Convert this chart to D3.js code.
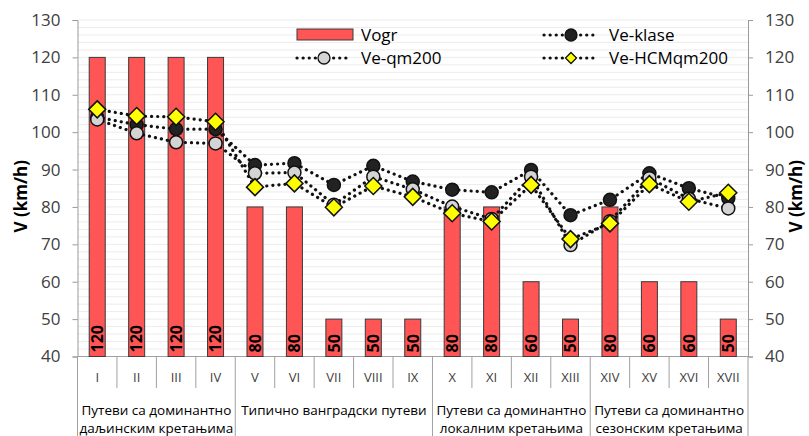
<!DOCTYPE html>
<html>
<head>
<meta charset="utf-8">
<script src="https://cdn.jsdelivr.net/npm/d3@7"></script>
<style>
  html, body { margin: 0; padding: 0; background: #fff; }
  svg { display: block; font-family: "Open Sans", "Noto Sans", sans-serif; }
</style>
</head>
<body>
<svg id="chart" width="809" height="436"></svg>
<script>
// Road classes (Roman numerals) and their groups
const categories = ["I","II","III","IV","V","VI","VII","VIII","IX","X","XI","XII","XIII","XIV","XV","XVI","XVII"];
const groups = [
  { from: 0, to: 3, lines: ["Путеви са доминантно", "даљинским кретањима"] },
  { from: 4, to: 8, lines: ["Типично ванградски путеви"] },
  { from: 9, to: 12, lines: ["Путеви са доминантно", "локалним кретањима"] },
  { from: 13, to: 16, lines: ["Путеви са доминантно", "сезонским кретањима"] }
];

// Speed limit (bars) and estimated speeds (lines), km/h
const vogr        = [120,120,120,120,80,80,50,50,50,80,80,60,50,80,60,60,50];
const veKlase     = [104,102,100.8,100.8,91.2,91.7,85.9,91,86.8,84.6,83.9,89.9,77.8,81.9,89,85,82.3];
const veQm200     = [103.4,99.7,97.3,97,89,89.2,80.6,88.1,84.7,80.1,76.8,88.1,69.8,76.2,87.7,82.2,79.6];
const veHcmQm200  = [106.1,104.3,104.1,102.8,85.3,86.3,79.9,85.6,82.7,78.3,76.1,85.9,71.4,75.6,86.1,81.4,83.8];

const yTicks = [40,50,60,70,80,90,100,110,120,130];

const svg = d3.select("#chart");
const plot = { left: 77.5, right: 748, top: 20, bottom: 356.5 };

const x = d3.scaleBand().domain(categories).range([plot.left, plot.right]).padding(0);
const y = d3.scaleLinear().domain([40, 130]).range([plot.bottom, plot.top]);
const cx = c => x(c) + x.bandwidth() / 2;

// light horizontal gridlines every 2 km/h
const gridVals = d3.range(42, 131, 2);
svg.append("g").selectAll("line").data(gridVals).join("line")
  .attr("x1", plot.left).attr("x2", plot.right)
  .attr("y1", d => y(d)).attr("y2", d => y(d))
  .attr("stroke", "#ececec").attr("stroke-width", 1);

// left axis
const axisColor = "#9a9a9a";
const leftAxis = d3.axisLeft(y).tickValues(yTicks).tickSize(5).tickPadding(12).tickFormat(d3.format("d"));
const gl = svg.append("g").attr("transform", `translate(${plot.left},0)`).call(leftAxis);
gl.select(".domain").attr("stroke", axisColor);
gl.selectAll(".tick line").attr("stroke", axisColor);
gl.selectAll(".tick text").attr("fill", "#404040").style("font-size", "17px").style("font-family", "Open Sans, sans-serif");

// right axis
const rightAxis = d3.axisRight(y).tickValues(yTicks).tickSize(5).tickPadding(12).tickFormat(d3.format("d"));
const gr = svg.append("g").attr("transform", `translate(${plot.right},0)`).call(rightAxis);
gr.select(".domain").attr("stroke", axisColor);
gr.selectAll(".tick line").attr("stroke", axisColor);
gr.selectAll(".tick text").attr("fill", "#404040").style("font-size", "17px").style("font-family", "Open Sans, sans-serif");

// axis titles
svg.append("text").attr("transform", `translate(27,${(plot.top + plot.bottom) / 2 + 8}) rotate(-90)`)
  .attr("text-anchor", "middle").attr("font-weight", "bold").attr("font-size", 17).attr("fill", "#000")
  .text("V (km/h)");
svg.append("text").attr("transform", `translate(802,${(plot.top + plot.bottom) / 2 + 8}) rotate(-90)`)
  .attr("text-anchor", "middle").attr("font-weight", "bold").attr("font-size", 17).attr("fill", "#000")
  .text("V (km/h)");

// bottom axis line and category separators
const sepColor = "#a0a0a0";
svg.append("line").attr("x1", plot.left).attr("x2", plot.right)
  .attr("y1", plot.bottom).attr("y2", plot.bottom).attr("stroke", sepColor);
const groupEdges = new Set([0, 4, 9, 13, 17]);
svg.append("g").selectAll("line").data(d3.range(0, 18)).join("line")
  .attr("x1", i => plot.left + i * x.bandwidth()).attr("x2", i => plot.left + i * x.bandwidth())
  .attr("y1", plot.bottom)
  .attr("y2", i => groupEdges.has(i) ? 436 : 388)
  .attr("stroke", sepColor);

// category labels
svg.append("g").selectAll("text").data(categories).join("text")
  .attr("x", d => cx(d)).attr("y", 382)
  .attr("text-anchor", "middle").attr("font-size", 13).attr("fill", "#404040")
  .text(d => d);

// group labels
groups.forEach(g => {
  const gx = (x(categories[g.from]) + x(categories[g.to]) + x.bandwidth()) / 2;
  g.lines.forEach((t, i) => {
    svg.append("text").attr("x", gx).attr("y", 415 + i * 18)
      .attr("text-anchor", "middle").attr("font-size", 13.5).attr("fill", "#000")
      .text(t);
  });
});

// bars for the speed limit
const barW = 16;
svg.append("g").selectAll("rect").data(vogr).join("rect")
  .attr("x", (d, i) => cx(categories[i]) - barW / 2)
  .attr("y", d => y(d))
  .attr("width", barW)
  .attr("height", d => y(40) - y(d))
  .attr("fill", "#ff5555").attr("stroke", "#3a3a3a").attr("stroke-width", 1);

// value labels inside bars
svg.append("g").selectAll("text").data(vogr).join("text")
  .attr("transform", (d, i) => `translate(${cx(categories[i])},${plot.bottom - 4}) rotate(-90)`)
  .attr("dy", "0.36em").attr("text-anchor", "start")
  .attr("font-weight", "bold").attr("font-size", 16).attr("fill", "#000")
  .text(d => d);

// dotted lines with markers
const line = d3.line().x((d, i) => cx(categories[i])).y(d => y(d));
const dotted = sel => sel.attr("fill", "none").attr("stroke", "#111").attr("stroke-width", 3.2)
  .attr("stroke-linecap", "round").attr("stroke-dasharray", "0.1 6");

const series = [
  { name: "Ve-klase", values: veKlase, shape: "circle", fill: "#222222" },
  { name: "Ve-qm200", values: veQm200, shape: "circle", fill: "#d4d4d4" },
  { name: "Ve-HCMqm200", values: veHcmQm200, shape: "diamond", fill: "#ffff00" }
];

series.forEach(s => {
  svg.append("path").datum(s.values).attr("d", line).call(dotted);
});
const diamond = r => `M0,${-r}L${r},0L0,${r}L${-r},0Z`;
series.forEach(s => {
  const g = svg.append("g");
  if (s.shape === "circle") {
    g.selectAll("circle").data(s.values).join("circle")
      .attr("cx", (d, i) => cx(categories[i])).attr("cy", d => y(d)).attr("r", 6.5)
      .attr("fill", s.fill).attr("stroke", "#111").attr("stroke-width", 1.5);
  } else {
    g.selectAll("path").data(s.values).join("path")
      .attr("transform", (d, i) => `translate(${cx(categories[i])},${y(d)})`)
      .attr("d", diamond(8.5))
      .attr("fill", s.fill).attr("stroke", "#111").attr("stroke-width", 1.5);
  }
});

// legend
const legend = svg.append("g");
legend.append("rect").attr("x", 297).attr("y", 29).attr("width", 56).attr("height", 11)
  .attr("fill", "#ff5555").attr("stroke", "#3a3a3a");
legend.append("text").attr("x", 361).attr("y", 41).attr("font-size", 17).attr("fill", "#000").text("Vogr");

const legendItems = [
  { s: series[0], x0: 544, yy: 35, tx: 609 },
  { s: series[1], x0: 297, yy: 58, tx: 361 },
  { s: series[2], x0: 544, yy: 58, tx: 609 }
];
legendItems.forEach(it => {
  legend.append("line").attr("x1", it.x0).attr("x2", it.x0 + 54)
    .attr("y1", it.yy).attr("y2", it.yy).call(dotted);
  const mx = it.x0 + 27;
  if (it.s.shape === "circle") {
    legend.append("circle").attr("cx", mx).attr("cy", it.yy).attr("r", 6)
      .attr("fill", it.s.fill).attr("stroke", "#111").attr("stroke-width", 1.3);
  } else {
    legend.append("path").attr("transform", `translate(${mx},${it.yy})`).attr("d", diamond(5.5))
      .attr("fill", it.s.fill).attr("stroke", "#111").attr("stroke-width", 1.3);
  }
  legend.append("text").attr("x", it.tx).attr("y", it.yy + 6).attr("font-size", 17).attr("fill", "#000")
    .text(it.s.name);
});
</script>
</body>
</html>
